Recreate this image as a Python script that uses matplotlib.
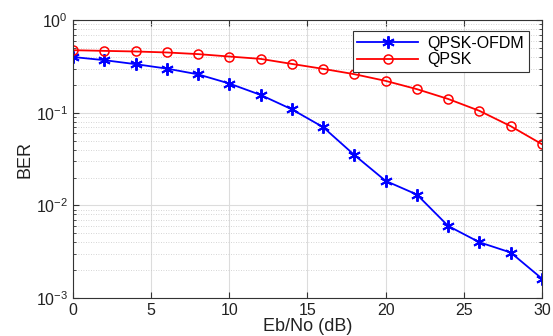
import numpy as np
import matplotlib.pyplot as plt
from matplotlib.ticker import LogLocator, NullFormatter

plt.rcParams['font.family'] = ['Liberation Sans', 'DejaVu Sans']
plt.rcParams['mathtext.fontset'] = 'custom'
plt.rcParams['mathtext.rm'] = 'Liberation Sans'
plt.rcParams['mathtext.it'] = 'Liberation Sans'

# Eb/No in dB
ebno = [0, 2, 4, 6, 8, 10, 12, 14, 16, 18, 20, 22, 24, 26, 28, 30]
ber_ofdm = [0.40, 0.37, 0.335, 0.30, 0.26, 0.207, 0.156, 0.109, 0.070, 0.035,
            0.0184, 0.0131, 0.0060, 0.0040, 0.0031, 0.00162]
ber_qpsk = [0.474, 0.466, 0.459, 0.448, 0.43, 0.405, 0.382, 0.337, 0.298, 0.261,
            0.221, 0.18, 0.141, 0.105, 0.0717, 0.0458]

fig = plt.figure(figsize=(5.53, 3.36), dpi=100)
ax = fig.add_axes([0.132, 0.113, 0.848, 0.827])

# asterisk marker like MATLAB's '*'
ax.semilogy(ebno, ber_ofdm, color='#0000ff', marker=(6, 2, 0), markersize=9,
            markeredgewidth=1.4, linewidth=1.3, label='QPSK-OFDM')
ax.semilogy(ebno, ber_qpsk, color='#ff0000', marker='o', markersize=6.5,
            markerfacecolor='none', markeredgewidth=1.1, linewidth=1.3, label='QPSK')

ax.set_xlim(0, 30)
ax.set_ylim(1e-3, 1)
ax.set_xticks([0, 5, 10, 15, 20, 25, 30])
ax.yaxis.set_major_locator(LogLocator(base=10, numticks=10))
ax.yaxis.set_minor_locator(LogLocator(base=10, subs=np.arange(2, 10), numticks=10))
ax.yaxis.set_minor_formatter(NullFormatter())

ax.grid(True, which='major', color='#dcdcdc', linewidth=0.8, linestyle='-')
ax.grid(True, which='minor', axis='y', color='#c8c8c8', linewidth=0.6, linestyle=(0, (1, 2)))
ax.set_axisbelow(True)

ax.tick_params(which='both', direction='in', top=True, right=True, labelsize=11.5,
               color='#333333', labelcolor='#222222')
ax.tick_params(which='major', length=4)
ax.tick_params(which='minor', length=2)
for s in ax.spines.values():
    s.set_color('#333333')
    s.set_linewidth(0.8)

ax.set_xlabel('Eb/No (dB)', fontsize=13, labelpad=0, color='#222222')
ax.set_ylabel('BER', fontsize=13, labelpad=2, color='#222222')

leg = ax.legend(loc='upper right', fontsize=11.5, fancybox=False, framealpha=1,
                edgecolor='#333333', handlelength=3.8, borderpad=0.3,
                labelspacing=0.1, handletextpad=0.6, bbox_to_anchor=(0.99, 0.99))
leg.get_frame().set_linewidth(0.8)

plt.savefig('out.png', dpi=100)
